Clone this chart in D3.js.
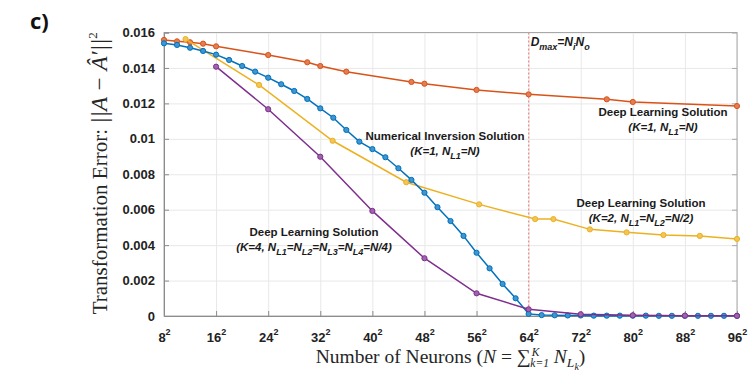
<!DOCTYPE html>
<html>
<head>
<meta charset="utf-8">
<script src="https://cdn.jsdelivr.net/npm/d3@7"></script>
<style>
  body { margin: 0; background: #fff; }
  svg { display: block; }
</style>
</head>
<body>
<div id="chart"></div>
<script>
// x values are sqrt(N), so the axis reads 8^2 ... 96^2
var xTicks = [8, 16, 24, 32, 40, 48, 56, 64, 72, 80, 88, 96];
var yTicks = [0, 0.002, 0.004, 0.006, 0.008, 0.01, 0.012, 0.014, 0.016];
var yTickLabels = ["0", "0.002", "0.004", "0.006", "0.008", "0.01", "0.012", "0.014", "0.016"];

// Deep learning K=1
var dl1X = [8, 10, 12, 14, 16, 24, 30, 32, 36, 46, 48, 56, 64, 76, 80, 96];
var dl1Y = [0.01558, 0.01550, 0.01545, 0.01537, 0.01522, 0.01473, 0.01432, 0.01411, 0.01379,
            0.01321, 0.01311, 0.01276, 0.01251, 0.01223, 0.01208, 0.01185];

// Deep learning K=2
var dl2X = [11.31, 22.6, 33.9, 45.2, 56.4, 65.0, 67.8, 73.4, 79.05, 84.7, 90.3, 96];
var dl2Y = [0.01563, 0.01304, 0.00989, 0.00755, 0.00630, 0.00547, 0.00547, 0.00489,
            0.00472, 0.00457, 0.00452, 0.00435];

// Numerical inversion
var numX = [8, 10, 12, 14, 16, 18, 20, 22, 24, 26, 28, 30, 32, 34, 36, 38, 40, 42, 44, 46, 48,
            50, 52, 54, 56, 58, 60, 62, 64, 66, 68, 70, 72, 74, 76, 78, 80, 82, 84, 86, 88,
            90, 92, 94, 96];
var numY = [0.01539, 0.01530, 0.01514, 0.01496, 0.01475, 0.01445, 0.01411, 0.01379, 0.01345,
            0.01308, 0.01270, 0.01225, 0.01172, 0.01119, 0.01050, 0.00984, 0.00942, 0.00896,
            0.00834, 0.00768, 0.00696, 0.00614, 0.00536, 0.00452, 0.00357, 0.00269, 0.00181,
            0.00100, 0.00012, 0.00005, 0.00004, 0.00003, 0.00003, 0.00002, 0.00002, 0.00002,
            0.00002, 0.00002, 0.00001, 0.00001, 0.00001, 0.00001, 0.00001, 0.00001, 0.00001];

// Deep learning K=4
var dl4X = [16, 24, 32, 40, 48, 56, 64, 72, 80, 88, 96];
var dl4Y = [0.01407, 0.01167, 0.00899, 0.00593, 0.00326, 0.00128, 0.00038, 0.00010,
            0.00004, 0.00002, 0.00001];

var dMax = 64;

var W = 751, H = 372;
var mL = 164, mR = 737, mT = 32.5, mB = 316;

var svg = d3.select("#chart").append("svg")
    .attr("width", W)
    .attr("height", H);

var x = d3.scaleLinear().domain([8, 96]).range([mL, mR]);
var y = d3.scaleLinear().domain([0, 0.016]).range([mB, mT]);

var sans = "'Liberation Sans', Arial, sans-serif";
var serif = "'Liberation Serif', 'Times New Roman', serif";

// grid
svg.append("g")
    .attr("transform", "translate(0," + mB + ")")
    .call(d3.axisBottom(x).tickValues(xTicks).tickSize(-(mB - mT)).tickFormat(""))
    .call(function(g) { g.select(".domain").remove(); })
    .selectAll("line").attr("stroke", "#e8e8e8");
svg.append("g")
    .attr("transform", "translate(" + mL + ",0)")
    .call(d3.axisLeft(y).tickValues(yTicks).tickSize(-(mR - mL)).tickFormat(""))
    .call(function(g) { g.select(".domain").remove(); })
    .selectAll("line").attr("stroke", "#e8e8e8");

// D_max marker line
svg.append("line")
    .attr("x1", x(dMax)).attr("x2", x(dMax))
    .attr("y1", mT).attr("y2", mB)
    .attr("stroke", "#f08a8a")
    .attr("stroke-width", 1.2)
    .attr("stroke-dasharray", "2,2");

// box
svg.append("rect")
    .attr("x", mL).attr("y", mT)
    .attr("width", mR - mL).attr("height", mB - mT)
    .attr("fill", "none")
    .attr("stroke", "#a8a8a8");

// axes (ticks inside)
var yAxis = svg.append("g")
    .attr("transform", "translate(" + mL + ",0)")
    .call(d3.axisLeft(y).tickValues(yTicks).tickSize(-5).tickPadding(9)
      .tickFormat(function(d, i) { return yTickLabels[i]; }));
yAxis.select(".domain").attr("stroke", "#8c8c8c");
yAxis.selectAll("line").attr("stroke", "#8c8c8c");
yAxis.selectAll("text")
    .attr("font-family", sans).attr("font-size", 13).attr("font-weight", "bold").attr("fill", "#222");

svg.append("g")
    .attr("transform", "translate(" + mR + ",0)")
    .call(d3.axisRight(y).tickValues(yTicks).tickSize(-5).tickFormat(""))
    .call(function(g) { g.select(".domain").remove(); })
    .selectAll("line").attr("stroke", "#a8a8a8");

var xAxis = svg.append("g")
    .attr("transform", "translate(0," + mB + ")")
    .call(d3.axisBottom(x).tickValues(xTicks).tickSize(-5).tickPadding(14).tickFormat(""));
xAxis.select(".domain").attr("stroke", "#8c8c8c");
xAxis.selectAll("line").attr("stroke", "#8c8c8c");
xAxis.selectAll(".tick").append("text")
    .attr("y", 26)
    .attr("text-anchor", "middle")
    .attr("font-family", sans).attr("font-size", 13).attr("font-weight", "bold").attr("fill", "#222")
    .each(function(d) {
      var t = d3.select(this);
      t.append("tspan").text(d);
      t.append("tspan").attr("dy", -7).attr("font-size", 9).text("2");
    });

// series
var series = [
  {xs: dl1X, ys: dl1Y, color: "#d95319"},
  {xs: dl2X, ys: dl2Y, color: "#edb120"},
  {xs: numX, ys: numY, color: "#0072bd"},
  {xs: dl4X, ys: dl4Y, color: "#7e2f8e"}
];

var line = d3.line().x(function(d) { return x(d[0]); }).y(function(d) { return y(d[1]); });

series.forEach(function(s) {
  var pts = s.xs.map(function(v, i) { return [v, s.ys[i]]; });
  var g = svg.append("g");
  g.append("path")
      .datum(pts)
      .attr("d", line)
      .attr("fill", "none")
      .attr("stroke", s.color)
      .attr("stroke-width", 1.5);
  g.selectAll("circle")
      .data(pts)
      .enter().append("circle")
      .attr("cx", function(d) { return x(d[0]); })
      .attr("cy", function(d) { return y(d[1]); })
      .attr("r", 2.6)
      .attr("fill", d3.interpolateRgb(s.color, "#fff")(0.25))
      .attr("stroke", s.color)
      .attr("stroke-width", 1);
});

// text helper: parts = [{t, off, size, style, dx}]
function rich(px, py, parts, o) {
  var t = svg.append("text")
      .attr("x", px).attr("y", py)
      .attr("text-anchor", o.anchor || "middle")
      .attr("font-family", o.family)
      .attr("font-size", o.size)
      .attr("font-weight", o.weight || "normal")
      .attr("font-style", o.style || "normal")
      .attr("fill", o.fill || "#1a1a1a");
  if (o.rotate) t.attr("transform", "rotate(" + o.rotate + "," + px + "," + py + ")");
  var cur = 0;
  parts.forEach(function(p) {
    var off = p.off || 0;
    var ts = t.append("tspan").attr("dy", off - cur).text(p.t);
    cur = off;
    if (p.size) ts.attr("font-size", p.size);
    if (p.style) ts.attr("font-style", p.style);
    if (p.dx) ts.attr("dx", p.dx);
  });
  return t;
}

var annBold = {family: sans, size: 11.5, weight: "bold"};
var annIt = {family: sans, size: 11.5, weight: "bold", style: "italic"};

rich(445, 140, [{t: "Numerical Inversion Solution"}], annBold);
rich(445, 155, [{t: "(K=1, N"}, {t: "L1", off: 4, size: 9}, {t: "=N)"}], annIt);

rich(663, 116, [{t: "Deep Learning Solution"}], annBold);
rich(663, 131, [{t: "(K=1, N"}, {t: "L1", off: 4, size: 9}, {t: "=N)"}], annIt);

rich(641, 207, [{t: "Deep Learning Solution"}], annBold);
rich(641, 222, [{t: "(K=2, N"}, {t: "L1", off: 4, size: 9}, {t: "=N"}, {t: "L2", off: 4, size: 9}, {t: "=N/2)"}], annIt);

rich(314, 236, [{t: "Deep Learning Solution"}], annBold);
rich(314, 251, [{t: "(K=4, N"}, {t: "L1", off: 4, size: 9}, {t: "=N"}, {t: "L2", off: 4, size: 9},
                {t: "=N"}, {t: "L3", off: 4, size: 9}, {t: "=N"}, {t: "L4", off: 4, size: 9}, {t: "=N/4)"}], annIt);

rich(x(dMax) + 2, 46, [{t: "D"}, {t: "max", off: 4, size: 9}, {t: "=N"}, {t: "i", off: 4, size: 9},
                       {t: "N"}, {t: "o", off: 4, size: 9}],
     {family: sans, size: 12, weight: "bold", style: "italic", anchor: "start"});

// axis titles
rich((mL + mR) / 2, 363, [
  {t: "Number of Neurons ("},
  {t: "N", style: "italic"},
  {t: " = \u2211"},
  {t: "K", off: -7, size: 11.5, style: "italic", dx: 1},
  {t: "k=1", off: 4, size: 11.5, style: "italic", dx: -9},
  {t: " N", off: 0, style: "italic"},
  {t: "L", off: 4, size: 13.5, style: "italic"},
  {t: "k", off: 7, size: 10, style: "italic"},
  {t: ")", off: 0}
], {family: serif, size: 19.5, fill: "#262626"});

rich(107, (mT + mB) / 2 - 1, [
  {t: "Transformation  Error:  "},
  {t: "||A \u2212 \u00C2\u2032||", size: 23, style: "italic"},
  {t: "2", off: -10, size: 13}
], {family: serif, size: 21, rotate: -90, fill: "#262626"});

// panel tag
svg.append("text")
    .attr("x", 30).attr("y", 29)
    .attr("font-family", "'Open Sans', 'Liberation Sans', sans-serif")
    .attr("font-size", 22)
    .attr("font-weight", "bold")
    .attr("fill", "#111")
    .text("c)");
</script>
</body>
</html>
